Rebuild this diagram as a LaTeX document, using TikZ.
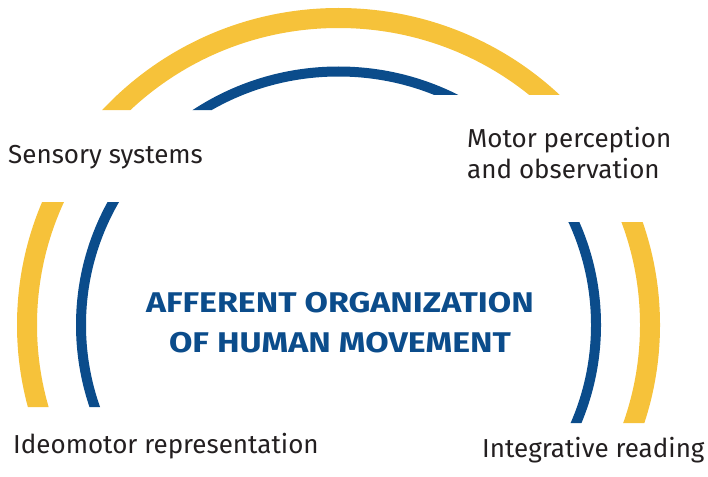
\documentclass[tikz,border=0pt]{standalone}
\usepackage{fontspec}
\setmainfont{Fira Sans}
\newfontfamily\ttlfont[FakeStretch=1.19]{Fira Sans}
\definecolor{ylw}{HTML}{F6C23A}
\definecolor{blu}{HTML}{0B4C8B}
\definecolor{txt}{HTML}{231F20}
\begin{document}
\begin{tikzpicture}[x=1pt,y=-1pt,
  lbl/.style={inner sep=0pt, text=txt, font=\fontsize{26}{31}\selectfont, anchor=base west, align=left},
  ttl/.style={inner sep=0pt, text=blu, font=\ttlfont\bfseries\fontsize{28.5}{40}\selectfont, anchor=base, align=center}]
\useasboundingbox (0,0) rectangle (708,476);
\coordinate (c) at (338.5,325);
\begin{scope}
  \clip (0,0) rectangle (338,110) (338,0) rectangle (708,95)
        (0,202) rectangle (338,407) (338,222) rectangle (708,423);
  \draw[ylw, line width=20pt] (c) ellipse[x radius=311.5pt, y radius=307pt];
  \draw[blu, line width=10pt] (c) ellipse[x radius=257.5pt, y radius=253.5pt];
\end{scope}
\node[lbl] (sens) at (8,163) {Sensory systems};
\node[lbl] (motor) at (467,178) {Motor perception\\and observation};
\node[lbl] (ideo) at (13,453) {Ideomotor representation};
\node[lbl] (integ) at (482,457) {Integrative reading};
\node[ttl] (title) at (340,352) {AFFERENT ORGANIZATION\\OF HUMAN MOVEMENT};
\end{tikzpicture}
\end{document}
